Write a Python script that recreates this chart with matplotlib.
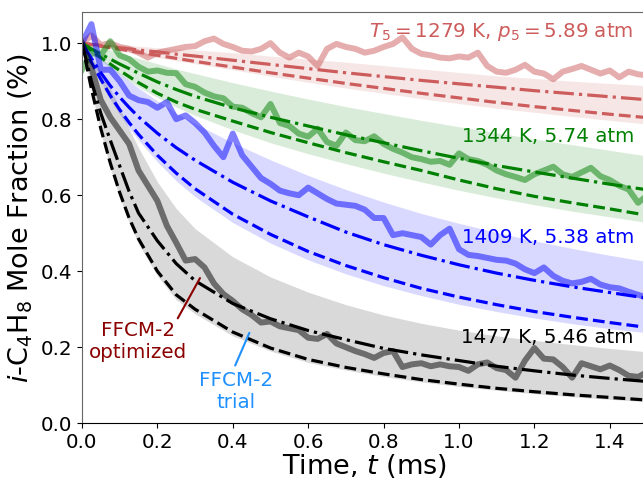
import numpy as np
import matplotlib.pyplot as plt

# time grid of the model curves (ms)
t_model = [0, 0.025, 0.05, 0.075, 0.1, 0.125, 0.15, 0.2, 0.25, 0.3, 0.4,
           0.5, 0.6, 0.7, 0.8, 0.9, 1.0, 1.1, 1.2, 1.3, 1.4, 1.5]

# 1279 K, 5.89 atm
red_opt = [1.0, 0.997, 0.994, 0.991, 0.988, 0.985, 0.982, 0.977, 0.971, 0.966, 0.955,
           0.944, 0.933, 0.922, 0.912, 0.902, 0.893, 0.884, 0.875, 0.867, 0.859, 0.851]
red_trial = [1.0, 0.996, 0.992, 0.988, 0.984, 0.98, 0.976, 0.968, 0.96, 0.952, 0.937,
             0.922, 0.908, 0.894, 0.881, 0.868, 0.856, 0.844, 0.833, 0.823, 0.813, 0.804]
red_hi = [1.0, 0.999, 0.998, 0.997, 0.995, 0.994, 0.992, 0.988, 0.985, 0.982, 0.975,
          0.966, 0.958, 0.950, 0.941, 0.932, 0.923, 0.914, 0.907, 0.900, 0.894, 0.888]
red_lo = [1.0, 0.995, 0.99, 0.985, 0.98, 0.976, 0.971, 0.962, 0.954, 0.946, 0.93,
          0.913, 0.897, 0.882, 0.868, 0.854, 0.841, 0.829, 0.818, 0.807, 0.797, 0.787]

# 1344 K, 5.74 atm
green_opt = [1.0, 0.985, 0.971, 0.958, 0.945, 0.933, 0.921, 0.898, 0.878, 0.86, 0.83,
             0.805, 0.782, 0.759, 0.738, 0.717, 0.697, 0.678, 0.661, 0.645, 0.629, 0.614]
green_trial = [1.0, 0.98, 0.962, 0.945, 0.928, 0.912, 0.896, 0.868, 0.845, 0.826, 0.795,
               0.765, 0.738, 0.712, 0.688, 0.665, 0.64, 0.617, 0.597, 0.58, 0.564, 0.547]
green_hi = [1.0, 0.995, 0.99, 0.982, 0.975, 0.967, 0.96, 0.946, 0.932, 0.92, 0.896,
            0.874, 0.853, 0.833, 0.815, 0.797, 0.78, 0.764, 0.748, 0.733, 0.718, 0.703]
green_lo = [1.0, 0.975, 0.955, 0.935, 0.918, 0.901, 0.885, 0.857, 0.832, 0.81, 0.772,
            0.738, 0.709, 0.683, 0.658, 0.635, 0.613, 0.593, 0.575, 0.558, 0.543, 0.528]

# 1409 K, 5.38 atm
blue_opt = [1.0, 0.96, 0.922, 0.888, 0.858, 0.831, 0.806, 0.763, 0.725, 0.692, 0.634,
            0.585, 0.543, 0.503, 0.47, 0.442, 0.417, 0.395, 0.376, 0.359, 0.344, 0.329]
blue_trial = [1.0, 0.95, 0.905, 0.862, 0.825, 0.791, 0.76, 0.705, 0.658, 0.617, 0.55,
              0.497, 0.452, 0.415, 0.383, 0.355, 0.332, 0.312, 0.294, 0.279, 0.265, 0.252]
blue_hi = [1.0, 0.98, 0.96, 0.94, 0.92, 0.901, 0.882, 0.848, 0.816, 0.788, 0.738,
           0.693, 0.652, 0.615, 0.582, 0.552, 0.526, 0.502, 0.48, 0.46, 0.442, 0.425]
blue_lo = [1.0, 0.945, 0.897, 0.852, 0.812, 0.777, 0.745, 0.688, 0.638, 0.596, 0.528,
           0.474, 0.43, 0.393, 0.362, 0.336, 0.313, 0.294, 0.277, 0.262, 0.249, 0.238]

# 1477 K, 5.46 atm
black_opt = [1.0, 0.9, 0.815, 0.745, 0.677, 0.61, 0.553, 0.48, 0.42, 0.375, 0.315,
             0.275, 0.244, 0.22, 0.197, 0.18, 0.165, 0.15, 0.138, 0.127, 0.118, 0.11]
black_trial = [1.0, 0.88, 0.775, 0.685, 0.607, 0.54, 0.485, 0.4, 0.338, 0.30, 0.24,
               0.198, 0.168, 0.147, 0.13, 0.115, 0.103, 0.092, 0.083, 0.075, 0.068, 0.061]
black_hi = [1.0, 0.965, 0.925, 0.88, 0.83, 0.775, 0.725, 0.635, 0.565, 0.512, 0.438,
            0.385, 0.345, 0.312, 0.285, 0.263, 0.245, 0.23, 0.218, 0.207, 0.197, 0.188]
black_lo = [1.0, 0.875, 0.765, 0.672, 0.595, 0.528, 0.472, 0.388, 0.325, 0.288, 0.23,
            0.19, 0.16, 0.14, 0.123, 0.109, 0.097, 0.087, 0.078, 0.07, 0.063, 0.057]

# measured traces, every 0.025 ms
t_exp = np.linspace(0, 1.5, 61)
red_exp = [1.00, 1.02, 0.995, 1.00, 0.99, 0.985, 0.975, 0.962, 0.975, 0.98,
           0.985, 0.99, 0.992, 1.005, 1.012, 0.998, 0.99, 0.98, 0.978, 0.985,
           1.00, 0.975, 0.962, 0.975, 0.965, 0.94, 0.985, 0.998, 0.99, 0.985,
           0.975, 0.98, 0.99, 0.998, 1.015, 0.985, 0.972, 0.968, 0.962, 0.96,
           0.965, 0.962, 0.975, 0.94, 0.925, 0.922, 0.93, 0.943, 0.925, 0.92,
           0.905, 0.925, 0.932, 0.94, 0.93, 0.92, 0.928, 0.91, 0.925, 0.918, 0.915]
green_exp = [0.93, 0.975, 0.968, 1.005, 0.968, 0.958, 0.938, 0.925, 0.928, 0.922,
             0.921, 0.892, 0.885, 0.87, 0.86, 0.855, 0.833, 0.83, 0.816, 0.805,
             0.84, 0.79, 0.782, 0.762, 0.754, 0.775, 0.74, 0.73, 0.765, 0.745,
             0.742, 0.755, 0.735, 0.722, 0.712, 0.70, 0.695, 0.688, 0.69, 0.68,
             0.71, 0.695, 0.69, 0.68, 0.665, 0.655, 0.648, 0.64, 0.655, 0.665,
             0.675, 0.655, 0.648, 0.66, 0.672, 0.65, 0.64, 0.625, 0.615, 0.58, 0.60]
blue_exp = [1.00, 1.05, 0.93, 0.93, 0.90, 0.862, 0.85, 0.845, 0.83, 0.845,
            0.80, 0.81, 0.79, 0.765, 0.73, 0.70, 0.762, 0.705, 0.675, 0.645,
            0.63, 0.612, 0.605, 0.60, 0.62, 0.605, 0.59, 0.578, 0.575, 0.572,
            0.562, 0.54, 0.54, 0.495, 0.50, 0.495, 0.49, 0.47, 0.495, 0.512,
            0.458, 0.443, 0.44, 0.435, 0.43, 0.428, 0.42, 0.405, 0.395, 0.41,
            0.388, 0.375, 0.368, 0.372, 0.38, 0.365, 0.358, 0.355, 0.346, 0.338, 0.33]
black_exp = [1.00, 0.935, 0.85, 0.805, 0.77, 0.735, 0.665, 0.625, 0.585, 0.52,
             0.475, 0.428, 0.432, 0.41, 0.368, 0.34, 0.322, 0.30, 0.285, 0.265,
             0.268, 0.255, 0.25, 0.245, 0.225, 0.222, 0.235, 0.21, 0.20, 0.19,
             0.182, 0.172, 0.185, 0.19, 0.148, 0.155, 0.158, 0.15, 0.155, 0.15,
             0.148, 0.138, 0.155, 0.16, 0.145, 0.14, 0.12, 0.165, 0.198, 0.17,
             0.168, 0.148, 0.12, 0.158, 0.15, 0.142, 0.152, 0.14, 0.125, 0.122, 0.135]

labels = ['$T_5 = $1279 K, $p_5 = $5.89 atm', '1344 K, 5.74 atm',
          '1409 K, 5.38 atm', '1477 K, 5.46 atm']
label_y = [1.017, 0.741, 0.474, 0.21]

cases = [
    (red_exp, red_opt, red_trial, red_lo, red_hi, 'indianred'),
    (green_exp, green_opt, green_trial, green_lo, green_hi, 'green'),
    (blue_exp, blue_opt, blue_trial, blue_lo, blue_hi, 'blue'),
    (black_exp, black_opt, black_trial, black_lo, black_hi, 'black'),
]

fig = plt.figure(figsize=(6.43, 4.79), dpi=100)
# axes run a little past the right edge, as in the original crop
ax = fig.add_axes([0.1275, 0.1163, 0.8795, 0.8587])

for (exp, opt, trial, lo, hi, c), lab, ly in zip(cases, labels, label_y):
    ax.fill_between(t_model, lo, hi, color=c, alpha=0.15, lw=0)
    ax.plot(t_exp, exp, color=c, alpha=0.5, lw=4.3, solid_joinstyle='round')
    ax.plot(t_model, opt, color=c, ls='-.', lw=2.3)
    ax.plot(t_model, trial, color=c, ls='--', lw=2.3)
    ax.text(1.464, ly, lab, color=c, fontsize=14.3, ha='right', va='baseline')

ax.annotate('FFCM-2\noptimized', xy=(0.313, 0.382), xytext=(0.1485, 0.215),
            color='darkred', fontsize=14.3, ha='center', va='center',
            arrowprops=dict(arrowstyle='-', color='darkred', lw=1.5,
                            relpos=(0.89, 1.0), shrinkA=0, shrinkB=0))
ax.annotate('FFCM-2\ntrial', xy=(0.444, 0.238), xytext=(0.41, 0.084),
            color='dodgerblue', fontsize=14.3, ha='center', va='center',
            arrowprops=dict(arrowstyle='-', color='dodgerblue', lw=1.5,
                            relpos=(0.45, 1.0), shrinkA=2, shrinkB=0))

ax.set_xlim(0, 1.5)
ax.set_ylim(0, 1.082)
ax.set_xticks([0.0, 0.2, 0.4, 0.6, 0.8, 1.0, 1.2, 1.4])
ax.set_yticks([0.0, 0.2, 0.4, 0.6, 0.8, 1.0])
ax.tick_params(labelsize=14.3)
ax.set_xlabel('Time, $t$ (ms)', fontsize=19.5, labelpad=0)
ax.set_ylabel('$i$-C$_4$H$_8$ Mole Fraction (%)', fontsize=19.5, labelpad=4)
for s in ['left', 'top']:
    ax.spines[s].set_color('#666666')

fig.savefig('out.png', dpi=100)
